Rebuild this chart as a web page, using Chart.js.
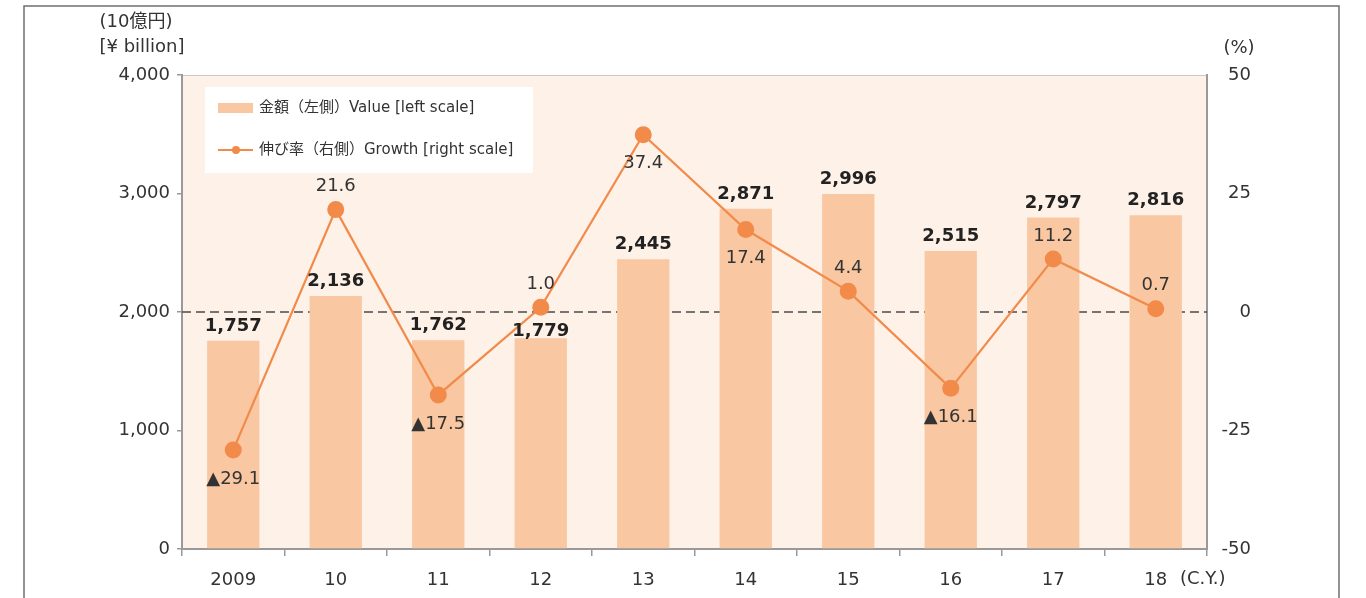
<!DOCTYPE html>
<html>
<head>
<meta charset="utf-8">
<script src="https://cdn.jsdelivr.net/npm/chart.js@4.4.1/dist/chart.umd.min.js"></script>
<style>
  html, body { margin: 0; padding: 0; background: #fff; }
  canvas { display: block; }
</style>
</head>
<body>
<canvas id="chart" width="1366" height="598"></canvas>
<script>
// data
const years = ['2009', '10', '11', '12', '13', '14', '15', '16', '17', '18'];
const values = [1757, 2136, 1762, 1779, 2445, 2871, 2996, 2515, 2797, 2816];   // 10億円
const growth = [-29.1, 21.6, -17.5, 1.0, 37.4, 17.4, 4.4, -16.1, 11.2, 0.7];   // %
const leftTicks = [0, 1000, 2000, 3000, 4000];
const rightTicks = [-50, -25, 0, 25, 50];
const growthBelow = [true, false, true, false, true, true, false, true, false, false];

const FONT = '"DejaVu Sans", "Noto Sans CJK JP", sans-serif';
const BAR_COLOR = '#F9C7A1';
const LINE_COLOR = '#F28A4A';
const PLOT_BG = '#FEF1E8';
const TEXT = '#333333';

Chart.defaults.font.family = FONT;
Chart.defaults.color = TEXT;

const fmt = v => v.toLocaleString('en-US');
const fmtGrowth = v => (v < 0 ? '\u25B2' + Math.abs(v).toFixed(1) : v.toFixed(1));

const decor = {
    id: 'decor',
    beforeDraw(chart) {
        const ctx = chart.ctx;
        const a = chart.chartArea;
        ctx.save();
        ctx.fillStyle = '#fff';
        ctx.fillRect(0, 0, chart.width, chart.height);
        // outer frame
        ctx.strokeStyle = '#6f6f6f';
        ctx.lineWidth = 1.5;
        ctx.beginPath();
        ctx.moveTo(24, chart.height + 2);
        ctx.lineTo(24, 6);
        ctx.lineTo(1339, 6);
        ctx.lineTo(1339, chart.height + 2);
        ctx.stroke();
        // plot background
        ctx.fillStyle = PLOT_BG;
        ctx.fillRect(a.left, a.top, a.right - a.left, a.bottom - a.top);
        ctx.strokeStyle = '#c8c8c8';
        ctx.lineWidth = 1;
        ctx.beginPath();
        ctx.moveTo(a.left, a.top + 0.5);
        ctx.lineTo(a.right, a.top + 0.5);
        ctx.stroke();
        ctx.restore();
    },
    beforeDatasetsDraw(chart) {
        // dashed reference line at 0 %
        const ctx = chart.ctx;
        const a = chart.chartArea;
        const y = chart.scales.y1.getPixelForValue(0);
        ctx.save();
        ctx.strokeStyle = '#4a4a4a';
        ctx.lineWidth = 1.5;
        ctx.setLineDash([9, 5]);
        ctx.beginPath();
        ctx.moveTo(a.left, y);
        ctx.lineTo(a.right, y);
        ctx.stroke();
        ctx.restore();
    },
    afterDatasetsDraw(chart) {
        const ctx = chart.ctx;
        ctx.save();
        ctx.textAlign = 'center';
        ctx.textBaseline = 'alphabetic';
        // bar value labels
        ctx.font = 'bold 18px ' + FONT;
        ctx.fillStyle = '#222';
        chart.getDatasetMeta(0).data.forEach((bar, i) => {
            const gap = i === 3 ? 2 : 10;
            ctx.fillText(fmt(values[i]), bar.x, bar.y - gap);
        });
        // growth labels
        ctx.font = '18px ' + FONT;
        ctx.fillStyle = TEXT;
        ctx.textBaseline = 'middle';
        chart.getDatasetMeta(1).data.forEach((pt, i) => {
            const dy = growthBelow[i] ? 29 : -23;
            ctx.fillText(fmtGrowth(growth[i]), pt.x, pt.y + dy);
        });
        ctx.restore();
    },
    afterDraw(chart) {
        const ctx = chart.ctx;
        ctx.save();
        // axis titles
        ctx.fillStyle = TEXT;
        ctx.font = '18px ' + FONT;
        ctx.textAlign = 'center';
        ctx.textBaseline = 'middle';
        ctx.fillText('(10億円)', 136, 22);
        ctx.fillText('[¥ billion]', 142, 47);
        ctx.fillText('(%)', 1239, 48);
        ctx.textAlign = 'left';
        ctx.fillText('(C.Y.)', 1180, 579);
        // legend box
        ctx.fillStyle = '#fff';
        ctx.fillRect(205, 87, 328, 86);
        ctx.font = '15px ' + FONT;
        ctx.fillStyle = BAR_COLOR;
        ctx.fillRect(218, 103, 35, 10);
        ctx.fillStyle = TEXT;
        ctx.fillText('金額（左側）Value [left scale]', 259, 108);
        ctx.strokeStyle = LINE_COLOR;
        ctx.lineWidth = 2;
        ctx.beginPath();
        ctx.moveTo(218, 150);
        ctx.lineTo(253, 150);
        ctx.stroke();
        ctx.fillStyle = LINE_COLOR;
        ctx.beginPath();
        ctx.arc(236, 150, 4, 0, Math.PI * 2);
        ctx.fill();
        ctx.fillStyle = TEXT;
        ctx.fillText('伸び率（右側）Growth [right scale]', 259, 150);
        ctx.restore();
    }
};

new Chart(document.getElementById('chart').getContext('2d'), {
    data: {
        labels: years,
        datasets: [{
            type: 'bar',
            label: '金額（左側）Value [left scale]',
            data: values,
            yAxisID: 'y',
            backgroundColor: BAR_COLOR,
            categoryPercentage: 1,
            barPercentage: 0.51,
            order: 2
        }, {
            type: 'line',
            label: '伸び率（右側）Growth [right scale]',
            data: growth,
            yAxisID: 'y1',
            borderColor: LINE_COLOR,
            backgroundColor: LINE_COLOR,
            borderWidth: 2.2,
            pointRadius: 8.5,
            pointBorderWidth: 0,
            tension: 0,
            order: 1
        }]
    },
    options: {
        responsive: false,
        animation: false,
        devicePixelRatio: 1,
        layout: {
            padding: { top: 75, right: 115, left: 0, bottom: 0 }
        },
        plugins: {
            legend: { display: false },
            tooltip: { enabled: false }
        },
        scales: {
            x: {
                offset: true,
                grid: { drawOnChartArea: false, tickLength: 7, color: '#999', lineWidth: 1.5 },
                border: { color: '#999', width: 2 },
                ticks: { font: { size: 18 }, color: TEXT, padding: 14, maxRotation: 0 },
                afterFit: s => { s.height = 49; }
            },
            y: {
                position: 'left',
                min: 0,
                max: 4000,
                afterBuildTicks: s => { s.ticks = leftTicks.map(v => ({ value: v })); },
                grid: { drawOnChartArea: false, tickLength: 5, color: '#999', lineWidth: 1.5 },
                border: { color: '#999', width: 2 },
                ticks: { font: { size: 18 }, color: TEXT, padding: 7, callback: v => fmt(v) },
                afterFit: s => { s.width = 182; }
            },
            y1: {
                position: 'right',
                min: -50,
                max: 50,
                afterBuildTicks: s => { s.ticks = rightTicks.map(v => ({ value: v })); },
                grid: { drawOnChartArea: false, drawTicks: false },
                border: { color: '#999', width: 2 },
                ticks: { font: { size: 18 }, color: TEXT, crossAlign: 'far' },
                afterFit: s => { s.width = 44; }
            }
        }
    },
    plugins: [decor]
});
</script>
</body>
</html>
